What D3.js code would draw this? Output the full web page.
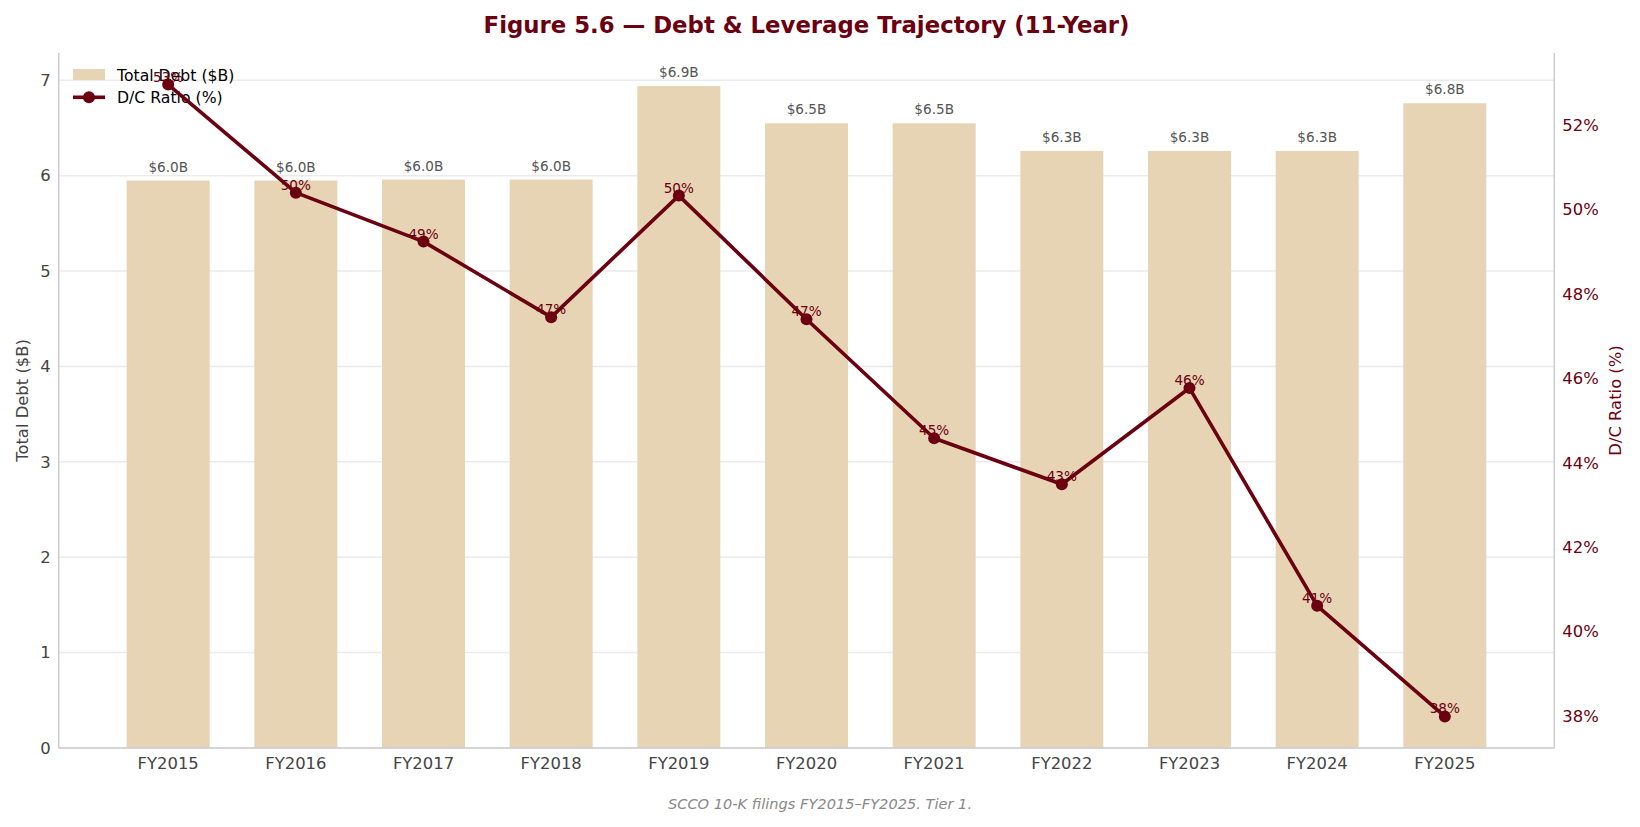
<!DOCTYPE html>
<html>
<head>
<meta charset="utf-8">
<script src="https://cdn.jsdelivr.net/npm/d3@7"></script>
<style>
  html, body { margin: 0; padding: 0; background: #fff; }
  svg { display: block; font-family: "DejaVu Sans", sans-serif; }
</style>
</head>
<body>
<svg id="chart" width="1640" height="827"></svg>
<script>
// ---- Data ----
const categories = ["FY2015","FY2016","FY2017","FY2018","FY2019","FY2020","FY2021","FY2022","FY2023","FY2024","FY2025"];
const totalDebt = [5.95, 5.95, 5.96, 5.96, 6.94, 6.55, 6.55, 6.26, 6.26, 6.26, 6.76];
const dcRatio = [52.96, 50.40, 49.24, 47.45, 50.33, 47.40, 44.58, 43.49, 45.77, 40.61, 37.99];
const leftTicks = [0, 1, 2, 3, 4, 5, 6, 7];
const rightTicks = [38, 40, 42, 44, 46, 48, 50, 52];

const title = "Figure 5.6 — Debt & Leverage Trajectory (11-Year)";
const source = "SCCO 10-K filings FY2015–FY2025. Tier 1.";

// ---- Layout ----
const W = 1640, H = 827;
const plot = { left: 58.7, right: 1554.3, top: 53, bottom: 748 };
const maroon = "#6b0010";
const barColor = "#e7d4b5";
const tickSize = 16.4;

const svg = d3.select("#chart");

const x = d3.scaleBand()
  .domain(categories)
  .range([plot.left, plot.right])
  .paddingInner(0.35)
  .paddingOuter(0.5325);

const debtMax = d3.max(totalDebt);
const y = d3.scaleLinear().domain([0, debtMax * 1.05]).range([plot.bottom, plot.top]);

const rMin = d3.min(dcRatio), rMax = d3.max(dcRatio), rSpan = rMax - rMin;
const y2 = d3.scaleLinear().domain([rMin - 0.05 * rSpan, rMax + 0.05 * rSpan]).range([plot.bottom, plot.top]);

// Gridlines
svg.append("g").selectAll("line").data(leftTicks).join("line")
  .attr("x1", plot.left).attr("x2", plot.right)
  .attr("y1", d => y(d)).attr("y2", d => y(d))
  .attr("stroke", "#ebebeb").attr("stroke-width", 1.5);

// Bars
svg.append("g").selectAll("rect").data(totalDebt).join("rect")
  .attr("x", (d, i) => x(categories[i]))
  .attr("width", x.bandwidth())
  .attr("y", d => y(d))
  .attr("height", d => y(0) - y(d))
  .attr("fill", barColor);

// Bar labels
svg.append("g").selectAll("text").data(totalDebt).join("text")
  .attr("x", (d, i) => x(categories[i]) + x.bandwidth() / 2)
  .attr("y", d => y(d) - 9)
  .attr("text-anchor", "middle")
  .attr("font-size", 13.6)
  .attr("fill", "#555")
  .text(d => "$" + d.toFixed(1) + "B");

// Legend (belongs to the bar axes, so it sits beneath the line)
const lg = svg.append("g");
lg.append("rect").attr("x", 73).attr("y", 69).attr("width", 32).attr("height", 11).attr("fill", barColor);
lg.append("text").attr("x", 117).attr("y", 80.5).attr("font-size", 15.7).attr("fill", "#000").text("Total Debt ($B)");
lg.append("line").attr("x1", 73).attr("x2", 105).attr("y1", 97.3).attr("y2", 97.3)
  .attr("stroke", maroon).attr("stroke-width", 3.6);
lg.append("circle").attr("cx", 89).attr("cy", 97.3).attr("r", 6).attr("fill", maroon);
lg.append("text").attr("x", 117).attr("y", 103.3).attr("font-size", 15.7).attr("fill", "#000").text("D/C Ratio (%)");

// Spines
const sp = svg.append("g").attr("stroke", "#cccccc").attr("stroke-width", 1.5).attr("fill", "none");
sp.append("line").attr("x1", plot.left).attr("x2", plot.left).attr("y1", plot.top).attr("y2", plot.bottom);
sp.append("line").attr("x1", plot.right).attr("x2", plot.right).attr("y1", plot.top).attr("y2", plot.bottom);
sp.append("line").attr("x1", plot.left).attr("x2", plot.right).attr("y1", plot.bottom).attr("y2", plot.bottom);

// Left axis
const leftAxis = svg.append("g").attr("transform", `translate(${plot.left},0)`)
  .call(d3.axisLeft(y).tickValues(leftTicks).tickSize(0).tickPadding(8).tickFormat(d3.format("d")));
leftAxis.select(".domain").remove();
leftAxis.selectAll("text").attr("font-size", tickSize).attr("fill", "#444").attr("font-family", "DejaVu Sans, sans-serif");

// Right axis
const rightAxis = svg.append("g").attr("transform", `translate(${plot.right},0)`)
  .call(d3.axisRight(y2).tickValues(rightTicks).tickSize(0).tickPadding(8).tickFormat(d => d + "%"));
rightAxis.select(".domain").remove();
rightAxis.selectAll("text").attr("font-size", tickSize).attr("fill", maroon).attr("font-family", "DejaVu Sans, sans-serif");

// Bottom axis
const bottomAxis = svg.append("g").attr("transform", `translate(0,${plot.bottom})`)
  .call(d3.axisBottom(x).tickSize(0).tickPadding(9));
bottomAxis.select(".domain").remove();
bottomAxis.selectAll("text").attr("font-size", tickSize).attr("fill", "#444").attr("font-family", "DejaVu Sans, sans-serif");

// Axis titles
svg.append("text")
  .attr("transform", `translate(28,${(plot.top + plot.bottom) / 2}) rotate(-90)`)
  .attr("text-anchor", "middle").attr("font-size", 16.4).attr("fill", "#444")
  .text("Total Debt ($B)");
svg.append("text")
  .attr("transform", `translate(1621,${(plot.top + plot.bottom) / 2}) rotate(-90)`)
  .attr("text-anchor", "middle").attr("font-size", 16.4).attr("fill", maroon)
  .text("D/C Ratio (%)");

// Line
const line = d3.line()
  .x((d, i) => x(categories[i]) + x.bandwidth() / 2)
  .y(d => y2(d));
svg.append("path").datum(dcRatio)
  .attr("d", line).attr("fill", "none")
  .attr("stroke", maroon).attr("stroke-width", 3.6)
  .attr("stroke-linejoin", "round");
svg.append("g").selectAll("circle").data(dcRatio).join("circle")
  .attr("cx", (d, i) => x(categories[i]) + x.bandwidth() / 2)
  .attr("cy", d => y2(d))
  .attr("r", 6)
  .attr("fill", maroon);

// Point labels
svg.append("g").selectAll("text").data(dcRatio).join("text")
  .attr("x", (d, i) => x(categories[i]) + x.bandwidth() / 2)
  .attr("y", d => y2(d) - 3)
  .attr("text-anchor", "middle")
  .attr("font-size", 13.6)
  .attr("fill", maroon)
  .text(d => Math.round(d) + "%");

// Title (centred over the plot area)
svg.append("text")
  .attr("x", (plot.left + plot.right) / 2).attr("y", 33)
  .attr("text-anchor", "middle")
  .attr("font-size", 22.8).attr("font-weight", "bold")
  .attr("fill", maroon)
  .text(title);

// Source note
svg.append("text")
  .attr("x", W / 2).attr("y", 809)
  .attr("text-anchor", "middle")
  .attr("font-size", 14.6).attr("font-style", "italic")
  .attr("fill", "#888")
  .text(source);
</script>
</body>
</html>
